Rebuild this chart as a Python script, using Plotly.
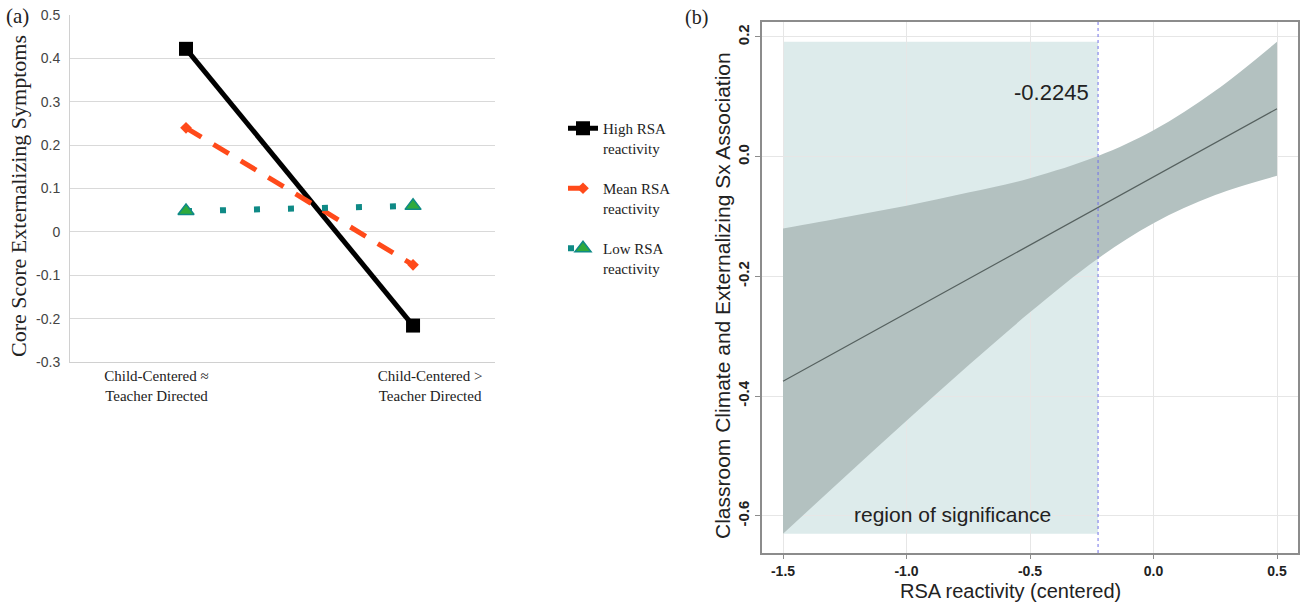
import plotly.graph_objects as go

# ---------------- Panel (a) data ----------------
categories = ["Child-Centered ≈<br>Teacher Directed", "Child-Centered ><br>Teacher Directed"]
cat_index = [0, 1]
cat_label_pos = [-0.13, 1.075]
high_rsa = [0.422, -0.216]
mean_rsa = [0.240, -0.076]
low_rsa = [0.048, 0.060]
series_names = ["High RSA<br>reactivity", "Mean RSA<br>reactivity", "Low RSA<br>reactivity"]
a_yticks = [0.5, 0.4, 0.3, 0.2, 0.1, 0, -0.1, -0.2, -0.3]
a_yticklabels = ["0.5", "0.4", "0.3", "0.2", "0.1", "0", "-0.1", "-0.2", "-0.3"]

# ---------------- Panel (b) data ----------------
rsa_x = [-1.5, -1.25, -1.0, -0.75, -0.5, -0.2245, 0.0, 0.25, 0.5]
ci_upper = [-0.120, -0.101, -0.082, -0.060, -0.036, 0.001, 0.044, 0.110, 0.192]
ci_lower = [-0.630, -0.535, -0.441, -0.349, -0.260, -0.170, -0.111, -0.064, -0.032]
fit_x = [-1.5, 0.5]
fit_y = [-0.375, 0.080]
jn_point = -0.2245
b_xticks = [-1.5, -1.0, -0.5, 0.0, 0.5]
b_yticks = [-0.6, -0.4, -0.2, 0.0, 0.2]

W, H = 1301, 605
serif = "Liberation Serif, Times New Roman, serif"
sans = "Liberation Sans, Arial, sans-serif"

fig = go.Figure()

# Panel (a) traces
fig.add_trace(go.Scatter(
    x=cat_index, y=high_rsa, name=series_names[0], mode="lines+markers",
    line=dict(color="black", width=5), marker=dict(symbol="square", size=14, color="black"),
    xaxis="x", yaxis="y", legendgroup="h"))
fig.add_trace(go.Scatter(
    x=cat_index, y=mean_rsa, name=series_names[1], mode="lines+markers",
    line=dict(color="#FF4A1A", width=5, dash="18px,14px"),
    marker=dict(symbol="diamond", size=9, color="#FF4A1A"),
    xaxis="x", yaxis="y", legendgroup="m"))
fig.add_trace(go.Scatter(
    x=cat_index, y=low_rsa, name=series_names[2], mode="lines+markers",
    line=dict(color="#0F8A86", width=6, dash="6px,28px"),
    marker=dict(symbol="triangle-up", size=14, color="#2FAA3C",
                line=dict(color="#0F8A86", width=1.5)),
    xaxis="x", yaxis="y", legendgroup="l"))

# Panel (b) traces
fig.add_trace(go.Scatter(
    x=rsa_x, y=ci_lower, mode="lines", line=dict(width=0, shape="spline", color="#B3C1C0"),
    showlegend=False, hoverinfo="skip", xaxis="x2", yaxis="y2"))
fig.add_trace(go.Scatter(
    x=rsa_x, y=ci_upper, mode="lines", line=dict(width=0, shape="spline", color="#B3C1C0"),
    fill="tonexty", fillcolor="#B3C1C0",
    showlegend=False, hoverinfo="skip", xaxis="x2", yaxis="y2"))
fig.add_trace(go.Scatter(
    x=fit_x, y=fit_y, mode="lines", line=dict(color="#56615F", width=1.2),
    showlegend=False, xaxis="x2", yaxis="y2"))

# Region of significance + Johnson-Neyman line
fig.add_shape(type="rect", xref="x2", yref="y2",
              x0=min(rsa_x), x1=jn_point, y0=min(ci_lower), y1=max(ci_upper),
              fillcolor="#DDEBEB", line=dict(width=0), layer="below")
fig.add_shape(type="line", xref="x2", yref="y2 domain",
              x0=jn_point, x1=jn_point, y0=0, y1=1,
              line=dict(color="#7272E8", width=1, dash="dot"))

fig.update_layout(
    width=W, height=H,
    margin=dict(l=0, r=0, t=0, b=0, pad=0, autoexpand=False),
    paper_bgcolor="white", plot_bgcolor="white",
    showlegend=True,
    legend=dict(x=563 / W, y=1 - 112 / H, xanchor="left", yanchor="top",
                font=dict(family=serif, size=15, color="#222"),
                traceorder="grouped", tracegroupgap=18, valign="top",
                bgcolor="rgba(0,0,0,0)"),
    xaxis=dict(domain=[70 / W, 495 / W], range=[-0.511, 1.361],
               showgrid=False, zeroline=False, automargin=False,
               showline=True, linecolor="#D0D0D0", linewidth=1,
               tickvals=cat_label_pos, ticktext=categories, ticks="",
               tickfont=dict(family=serif, size=15, color="#222"), anchor="y"),
    yaxis=dict(domain=[1 - 362 / H, 1 - 15 / H], range=[-0.3, 0.5],
               tickvals=a_yticks, ticktext=a_yticklabels, automargin=False,
               showgrid=True, gridcolor="#D9D9D9", gridwidth=1,
               zeroline=False, showline=True, linecolor="#D0D0D0", linewidth=1,
               ticks="", ticklabelstandoff=6,
               tickfont=dict(family=sans, size=14, color="#444"), anchor="x"),
    xaxis2=dict(domain=[762 / W, 1298 / W], range=[-1.585, 0.585],
                tickvals=b_xticks, ticktext=["-1.5", "-1.0", "-0.5", "0.0", "0.5"],
                showgrid=True, gridcolor="#E6E6E6", gridwidth=1, zeroline=False,
                showline=True, mirror=True, linecolor="#8C8C8C", linewidth=1.5,
                ticks="outside", ticklen=4, tickcolor="#8C8C8C", automargin=False,
                tickfont=dict(family=sans, size=14, color="#222", weight="bold"),
                anchor="y2"),
    yaxis2=dict(domain=[1 - 553 / H, 1 - 22 / H], range=[-0.662, 0.225],
                tickvals=b_yticks, ticktext=["-0.6", "-0.4", "-0.2", "0.0", "0.2"],
                tickangle=-90, automargin=False,
                showgrid=True, gridcolor="#E6E6E6", gridwidth=1, zeroline=False,
                showline=True, mirror=True, linecolor="#8C8C8C", linewidth=1.5,
                ticks="outside", ticklen=5, tickcolor="#8C8C8C",
                tickfont=dict(family=sans, size=15, color="#222", weight="bold"),
                anchor="x2"),
)

annotations = [
    dict(text="(a)", x=4 / W, y=1 - 16 / H, xref="paper", yref="paper",
         xanchor="left", yanchor="middle", showarrow=False,
         font=dict(family=serif, size=21, color="#222")),
    dict(text="(b)", x=683 / W, y=1 - 17 / H, xref="paper", yref="paper",
         xanchor="left", yanchor="middle", showarrow=False,
         font=dict(family=serif, size=20, color="#222")),
    dict(text="Core Score Externalizing Symptoms", x=18 / W, y=1 - 196 / H,
         xref="paper", yref="paper", textangle=-90, showarrow=False,
         xanchor="center", yanchor="middle",
         font=dict(family=serif, size=22, color="#222")),
    dict(text="Classroom Climate and Externalizing Sx Association", x=722 / W, y=1 - 296 / H,
         xref="paper", yref="paper", textangle=-90, showarrow=False,
         xanchor="center", yanchor="middle",
         font=dict(family=sans, size=21, color="#222")),
    dict(text="RSA reactivity (centered)", x=1010 / W, y=1 - 591 / H,
         xref="paper", yref="paper", showarrow=False,
         xanchor="center", yanchor="middle",
         font=dict(family=sans, size=20, color="#222")),
    dict(text=str(jn_point), x=-0.415, y=0.107, xref="x2", yref="y2", showarrow=False,
         xanchor="center", yanchor="middle",
         font=dict(family=sans, size=22, color="#222")),
    dict(text="region of significance", x=-0.815, y=-0.598, xref="x2", yref="y2",
         showarrow=False, xanchor="center", yanchor="middle",
         font=dict(family=sans, size=21, color="#222")),
]
fig.update_layout(annotations=annotations)

fig.write_html(
    "out.html",
    config={"displayModeBar": False},
    post_script="document.body.style.margin='0px';document.body.style.padding='0px';"
                "document.body.style.overflow='hidden';",
)
